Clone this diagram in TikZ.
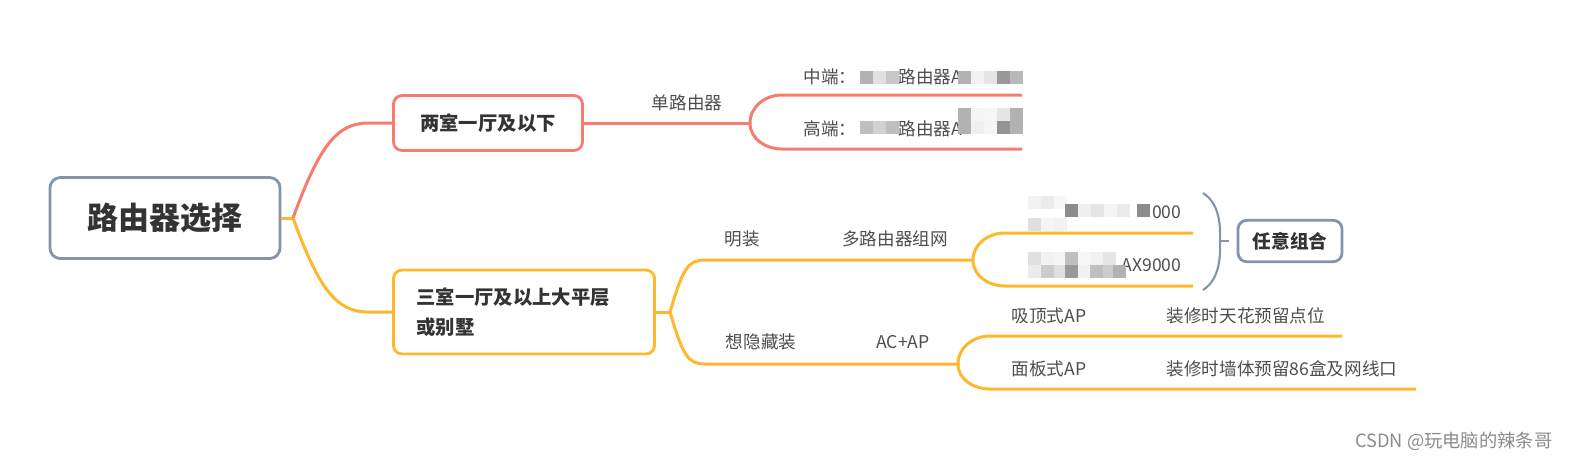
\documentclass[tikz,border=0pt]{standalone}
\usepackage{fontspec}
\setmainfont{Noto Sans CJK SC}
\usetikzlibrary{positioning}

\definecolor{rootblue}{HTML}{8594AC}
\definecolor{redline}{HTML}{F77B6E}
\definecolor{yelline}{HTML}{FFB72B}
\definecolor{txtgray}{HTML}{333333}
\definecolor{lblgray}{HTML}{4E4E4E}

\begin{document}
\begin{tikzpicture}[x=0.01cm, y=-0.01cm, root/.style={draw=rootblue, line width=0.8pt, rounded corners=3pt, minimum width=2.3cm, minimum height=0.81cm, text=txtgray, font=\fontsize{8.8}{10}\selectfont\bfseries}, topic/.style={draw, line width=0.8pt, rounded corners=2.5pt, fill=white, minimum height=0.55cm, text=txtgray, font=\fontsize{5.5}{8.5}\selectfont\bfseries}, lbl/.style={text=lblgray, inner sep=0pt, font=\fontsize{5}{6}\selectfont}, redbr/.style={draw=redline, line width=0.85pt}, yelbr/.style={draw=yelline, line width=0.85pt}]
	\fill[white] (0,0) rectangle (1577,463);
	\useasboundingbox (0,0) rectangle (1577,463);

	\node[root] (root) at (165,218) {路由器选择};
	\node[topic, draw=redline, minimum width=1.89cm] (two) at (488,123) {两室一厅及以下};
	\node[topic, draw=yelline, text width=2.15cm, inner xsep=0.23cm, align=left, minimum height=0.84cm] (three) at (524,312) {三室一厅及以上大平层\\或别墅};
	\node[topic, draw=rootblue, minimum width=1.04cm, minimum height=0.41cm, font=\fontsize{5.3}{6}\selectfont\bfseries] (any) at (1290,241) {任意组合};

	\coordinate (j0) at (293,218);
	\coordinate (f1) at (750,123);
	\coordinate (j2) at (670,312);
	\coordinate (f2) at (973,260);
	\coordinate (f3) at (958,364);

	\draw[yelbr] (root.east) -- (j0);
	\draw[redbr] (j0) .. controls (318,150) and (335,123) .. (368,123) -- (two.west);
	\draw[yelbr] (j0) .. controls (318,286) and (335,312) .. (368,312) -- (three.west);

	\draw[redbr] (two.east) -- (f1);
	\draw[redbr] (f1) to[out=90, in=180] (782,95) -- (1022,95);
	\draw[redbr] (f1) to[out=-90, in=180] (782,149) -- (1022,149);

	\draw[yelbr] (three.east) -- (j2);
	\draw[yelbr] (j2) .. controls (683,268) and (688,260) .. (705,260) -- (f2);
	\draw[yelbr] (j2) .. controls (683,356) and (688,364) .. (705,364) -- (f3);
	\draw[yelbr] (f2) to[out=90, in=180] (1005,233) -- (1193,233);
	\draw[yelbr] (f2) to[out=-90, in=180] (1005,286) -- (1193,286);
	\draw[yelbr] (f3) to[out=90, in=180] (990,336) -- (1342,336);
	\draw[yelbr] (f3) to[out=-90, in=180] (990,389) -- (1416,389);

	\draw[rootblue, line width=0.6pt] (1203,193) .. controls (1222,205) and (1220,232) .. (1220,241) .. controls (1220,250) and (1222,278) .. (1203,290);
	\draw[rootblue, line width=0.6pt] (1220,241) -- (1229,241);

	\node[lbl] (single) at (687,103) {单路由器};
	\node[lbl, anchor=west] (mid) at (803,77) {中端：};
	\node[lbl, anchor=west] (midr) at (898,77) {路由器A};
	\node[lbl, anchor=west] (high) at (803,129) {高端：};
	\node[lbl, anchor=west] (highr) at (898,129) {路由器A};

	\node[lbl] (open) at (742,239) {明装};
	\node[lbl] (multi) at (895,239) {多路由器组网};
	\node[lbl, anchor=east] (ra) at (1182,212) {000};
	\node[lbl, anchor=east] (rb) at (1182,265) {AX9000};

	\node[lbl] (hide) at (761,342) {想隐藏装};
	\node[lbl] (acap) at (903,342) {AC+AP};
	\node[lbl, anchor=west] (ceil) at (1011,316) {吸顶式AP};
	\node[lbl, anchor=west] (ceilr) at (1166,316) {装修时天花预留点位};
	\node[lbl, anchor=west] (panel) at (1011,369) {面板式AP};
	\node[lbl, anchor=west] (panelr) at (1166,369) {装修时墙体预留86盒及网线口};

	\foreach \x/\y/\g in {860/71/30, 873/71/12, 886/71/22, 958/71/30, 971/71/5, 984/71/10, 997/71/40, 1010/71/28,
		958/108/30, 971/108/4, 984/108/3, 997/108/10, 1010/108/30, 860/121/25, 873/121/18, 886/121/25, 958/121/30, 971/121/6, 984/121/4, 997/121/42, 1010/121/30,
		1028/196/5, 1041/196/8, 1054/196/3, 1065/204/45, 1078/204/6, 1091/204/10, 1104/204/4, 1117/204/8, 1137/204/45, 1028/218/12, 1041/218/4, 1054/218/5,
		1028/252/12, 1041/252/5, 1054/252/4, 1065/252/25, 1078/252/3, 1090/252/5, 1103/252/10, 1028/265/8, 1041/265/20, 1054/265/12, 1065/265/40, 1078/265/5, 1090/265/25, 1103/265/20, 1113/265/30}
		\fill[black!\g] (\x,\y) rectangle ++(13,13);

	\node[anchor=east, text=black!45, inner sep=0pt, font=\fontsize{5.2}{6}\selectfont] (wm) at (1553,441) {CSDN @玩电脑的辣条哥};
\end{tikzpicture}
\end{document}
